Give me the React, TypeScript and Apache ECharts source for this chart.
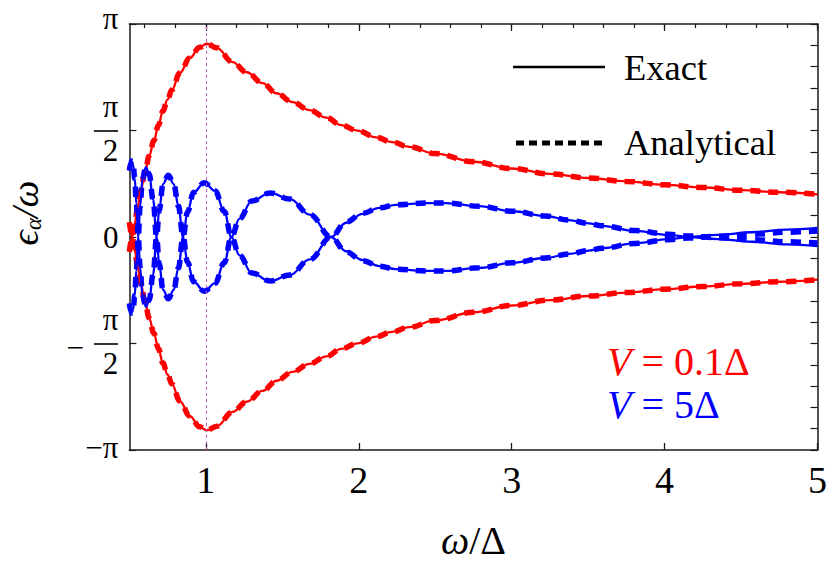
import React, { useEffect, useRef } from "react";
import * as echarts from "echarts";

const FONT = "Liberation Serif";

// ---- axis ticks ----
const xMajorTicks = [1, 2, 3, 4, 5];
const xMinorTicks = [0.6, 0.8, 1, 1.2, 1.4, 1.6, 1.8, 2, 2.2, 2.4, 2.6, 2.8, 3, 3.2, 3.4, 3.6, 3.8, 4, 4.2, 4.4, 4.6, 4.8, 5];
const yMajorTicks = [-Math.PI, -Math.PI / 2, 0, Math.PI / 2, Math.PI];
const yFractionTicks = [-Math.PI / 2, Math.PI / 2];
const yMinorTicks = Array.from({ length: 21 }, (_, i) => -Math.PI + (i * Math.PI) / 10);

// ---- V = 0.1Δ (red) ----
const redX = [
  0.5, 0.519, 0.536, 0.554, 0.575, 0.601, 0.63, 0.66, 0.69, 0.719,
  0.75, 0.778, 0.83, 0.895, 0.96, 1.006, 1.071, 1.175, 1.267, 1.371,
  1.462, 1.567, 1.678, 1.788, 1.886, 1.99, 2.114, 2.218, 2.33, 2.5,
  2.75, 3.0, 3.25, 3.5, 3.75, 4.0, 4.25, 4.5, 4.75, 5.0,
];
const redUpper = [
  -0.22, 0, 0.21, 0.44, 0.69, 0.95, 1.2, 1.42, 1.65, 1.86,
  2.03, 2.17, 2.42, 2.64, 2.8, 2.85, 2.79, 2.58, 2.43, 2.27,
  2.12, 1.99, 1.87, 1.76, 1.65, 1.57, 1.47, 1.4, 1.33, 1.23,
  1.11, 1.01, 0.93, 0.87, 0.82, 0.77, 0.73, 0.69, 0.66, 0.63,
];
const redLower = [
  0.22, 0, -0.21, -0.44, -0.69, -0.95, -1.2, -1.42, -1.65, -1.86,
  -2.03, -2.17, -2.42, -2.64, -2.8, -2.85, -2.79, -2.58, -2.43, -2.27,
  -2.12, -1.99, -1.87, -1.76, -1.65, -1.57, -1.47, -1.4, -1.33, -1.23,
  -1.11, -1.01, -0.93, -0.87, -0.82, -0.77, -0.73, -0.69, -0.66, -0.63,
];

// ---- V = 5Δ (blue) ----
const blueX = [
  0.5, 0.507, 0.515, 0.525, 0.535, 0.545, 0.558, 0.57, 0.585, 0.608,
  0.63, 0.655, 0.678, 0.695, 0.72, 0.755, 0.79, 0.82, 0.851, 0.88,
  0.92, 0.99, 1.06, 1.12, 1.167, 1.22, 1.3, 1.42, 1.55, 1.68,
  1.819, 1.917, 2.025, 2.134, 2.243, 2.44, 2.57, 2.787, 3.004, 3.222,
  3.374, 3.504, 3.591, 3.809, 4.026, 4.157, 4.35, 4.57, 4.8, 5.0,
];
const blueExactA = [
  0.98, 1.08, 1.12, 1.06, 0.86, 0.5, 0, -0.45, -0.85, -1.03,
  -0.92, -0.55, 0, 0.4, 0.78, 0.91, 0.78, 0.46, 0, -0.37,
  -0.66, -0.8, -0.68, -0.38, 0, 0.27, 0.53, 0.65, 0.56, 0.33,
  0, -0.21, -0.34, -0.43, -0.475, -0.5, -0.5, -0.455, -0.38, -0.31,
  -0.25, -0.2, -0.165, -0.09, -0.03, 0, 0.03, 0.07, 0.11, 0.135,
];
const blueExactB = [
  -0.98, -1.08, -1.12, -1.06, -0.86, -0.5, 0, 0.45, 0.85, 1.03,
  0.92, 0.55, 0, -0.4, -0.78, -0.91, -0.78, -0.46, 0, 0.37,
  0.66, 0.8, 0.68, 0.38, 0, -0.27, -0.53, -0.65, -0.56, -0.33,
  0, 0.21, 0.34, 0.43, 0.475, 0.5, 0.5, 0.455, 0.38, 0.31,
  0.25, 0.2, 0.165, 0.09, 0.03, 0, -0.03, -0.07, -0.11, -0.135,
];
const blueAnalyticalA = [
  0.98, 1.08, 1.12, 1.06, 0.86, 0.5, 0, -0.45, -0.85, -1.03,
  -0.92, -0.55, 0, 0.4, 0.78, 0.91, 0.78, 0.46, 0, -0.37,
  -0.66, -0.8, -0.68, -0.38, 0, 0.27, 0.53, 0.65, 0.56, 0.33,
  0, -0.22, -0.35, -0.43, -0.475, -0.5, -0.5, -0.455, -0.38, -0.31,
  -0.25, -0.2, -0.165, -0.095, -0.04, -0.015, 0.01, 0.04, 0.07, 0.09,
];
const blueAnalyticalB = [
  -0.98, -1.08, -1.12, -1.06, -0.86, -0.5, 0, 0.45, 0.85, 1.03,
  0.92, 0.55, 0, -0.4, -0.78, -0.91, -0.78, -0.46, 0, 0.37,
  0.66, 0.8, 0.68, 0.38, 0, -0.27, -0.53, -0.65, -0.56, -0.33,
  0, 0.22, 0.35, 0.43, 0.475, 0.5, 0.5, 0.455, 0.38, 0.31,
  0.25, 0.2, 0.165, 0.095, 0.04, 0.015, -0.01, -0.04, -0.07, -0.09,
];

const RED = "#ff0000";
const BLUE = "#0000ff";
const AXIS = "#1a1a1a";

const near = (a: number, b: number) => Math.abs(a - b) < 1e-6;

function pairs(xs: number[], ys: number[]) {
  return xs.map((x, i) => [x, ys[i]]);
}

function curve(name: string, xs: number[], ys: number[], color: string, dashed: boolean, extra: any = {}) {
  return {
    name,
    type: "line",
    data: pairs(xs, ys),
    smooth: 0.4,
    smoothMonotone: "x",
    symbol: "none",
    silent: true,
    z: dashed ? 2 : 3,
    lineStyle: dashed
      ? { color, width: 5.5, type: [10, 8], cap: "butt" }
      : { color, width: 2.3, type: "solid" },
    itemStyle: { color },
    ...extra,
  };
}

export default function App() {
  const ref = useRef<HTMLDivElement>(null);

  useEffect(() => {
    if (!ref.current) return;
    const chart = echarts.init(ref.current, undefined, { renderer: "svg" });

    const base = { fontSize: 31, fontFamily: FONT, color: "#000" };
    const yLabelRich = {
      n: { ...base, lineHeight: 40, align: "center" },
      d: { ...base, lineHeight: 48, align: "center" },
      t: { ...base, padding: [0, 0, 12, 0] },
      z: { ...base },
      p: { ...base, padding: [0, 0, 5, 0] },
    };

    const option: any = {
      animation: false,
      backgroundColor: "#ffffff",
      textStyle: { fontFamily: FONT },
      grid: { left: 129.4, right: 10.7, top: 24, bottom: 120, containLabel: false },
      xAxis: [
        {
          type: "value",
          position: "bottom",
          min: 0.5,
          max: 5,
          axisLine: { show: true, onZero: false, lineStyle: { color: AXIS, width: 1.5 } },
          axisTick: { show: true, inside: true, length: 7, customValues: xMajorTicks, lineStyle: { color: AXIS, width: 1.3 } },
          axisLabel: {
            show: true,
            customValues: xMajorTicks,
            margin: 11,
            fontSize: 38,
            fontFamily: FONT,
            color: "#000",
          },
          splitLine: { show: false },
          name: "{i|ω}{r|/Δ}",
          nameLocation: "middle",
          nameGap: 70,
          nameTextStyle: {
            fontFamily: FONT,
            fontSize: 40,
            color: "#000",
            rich: {
              i: { fontFamily: FONT, fontSize: 40, fontStyle: "italic", color: "#000" },
              r: { fontFamily: FONT, fontSize: 40, color: "#000" },
            },
          },
        },
        {
          type: "value",
          position: "top",
          min: 0.5,
          max: 5,
          axisLine: { show: true, onZero: false, lineStyle: { color: AXIS, width: 1.5 } },
          axisTick: { show: true, inside: true, length: 4, customValues: xMinorTicks, lineStyle: { color: AXIS, width: 1.2 } },
          axisLabel: { show: false },
          splitLine: { show: false },
        },
        {
          type: "value",
          position: "top",
          min: 0.5,
          max: 5,
          axisLine: { show: false, onZero: false },
          axisTick: { show: true, inside: true, length: 7, customValues: xMajorTicks, lineStyle: { color: AXIS, width: 1.2 } },
          axisLabel: { show: false },
          splitLine: { show: false },
        },
      ],
      yAxis: [
        {
          type: "value",
          position: "left",
          min: -Math.PI,
          max: Math.PI,
          axisLine: { show: true, onZero: false, lineStyle: { color: AXIS, width: 1.5 } },
          axisTick: { show: true, inside: true, length: 7, customValues: yMajorTicks, lineStyle: { color: AXIS, width: 1.2 } },
          axisLabel: {
            show: true,
            customValues: yMajorTicks,
            margin: 11,
            fontSize: 31,
            fontFamily: FONT,
            color: "#000",
            formatter: (v: number) => {
              if (near(v, Math.PI)) return "{t|π}";
              if (near(v, -Math.PI)) return "{p|−π}";
              if (near(v, 0)) return "{z|0}";
              if (near(Math.abs(v), Math.PI / 2)) return "{n|π}\n{d|2}";
              return "";
            },
            rich: yLabelRich,
          },
          splitLine: { show: false },
        },
        {
          // fraction bars of the ±π/2 labels
          type: "value",
          position: "left",
          offset: 11.4,
          min: -Math.PI,
          max: Math.PI,
          axisLine: { show: false, onZero: false },
          axisTick: { show: true, inside: false, length: 24, customValues: yFractionTicks, lineStyle: { color: "#000", width: 1.6 } },
          axisLabel: { show: false },
          splitLine: { show: false },
        },
        {
          type: "value",
          position: "right",
          min: -Math.PI,
          max: Math.PI,
          axisLine: { show: true, onZero: false, lineStyle: { color: AXIS, width: 1.5 } },
          axisTick: { show: true, inside: true, length: 7, customValues: yMinorTicks, lineStyle: { color: AXIS, width: 1.2 } },
          axisLabel: { show: false },
          splitLine: { show: false },
        },
      ],
      series: [
        curve("redUpperAnalytical", redX, redUpper, RED, true, {
          markLine: {
            silent: true,
            symbol: ["none", "none"],
            label: { show: false },
            lineStyle: { color: "#c060c0", width: 1, type: [3, 3] },
            data: [{ xAxis: 1 }],
          },
        }),
        curve("redLowerAnalytical", redX, redLower, RED, true),
        curve("blueAAnalytical", blueX, blueAnalyticalA, BLUE, true),
        curve("blueBAnalytical", blueX, blueAnalyticalB, BLUE, true),
        curve("redUpperExact", redX, redUpper, RED, false),
        curve("redLowerExact", redX, redLower, RED, false),
        curve("blueAExact", blueX, blueExactA, BLUE, false),
        curve("blueBExact", blueX, blueExactB, BLUE, false),
      ],
      graphic: [
        {
          // minus sign of the −π/2 tick label
          type: "text",
          x: 84,
          y: 347,
          style: { text: "−", fill: "#000", fontSize: 31, fontFamily: FONT, align: "right", verticalAlign: "middle" },
        },
        {
          type: "text",
          x: 25,
          y: 213,
          rotation: Math.PI / 2,
          style: {
            text: "{e|ϵ}{s|α}{e|/ω}",
            fill: "#000",
            fontSize: 38,
            fontFamily: FONT,
            align: "center",
            verticalAlign: "middle",
            rich: {
              e: { fontFamily: FONT, fontSize: 38, fontStyle: "italic", fill: "#000", lineHeight: 40 },
              s: { fontFamily: FONT, fontSize: 23, fontStyle: "italic", fill: "#000", lineHeight: 40, verticalAlign: "bottom" },
            },
          },
        },
        { type: "line", shape: { x1: 513, y1: 67, x2: 605, y2: 67 }, style: { stroke: "#000", lineWidth: 2.5 } },
        { type: "text", x: 624, y: 67, style: { text: "Exact", fill: "#000", fontSize: 36.5, fontFamily: FONT, verticalAlign: "middle", align: "left" } },
        { type: "line", shape: { x1: 516, y1: 143, x2: 604, y2: 143 }, style: { stroke: "#000", lineWidth: 5, lineDash: [8, 5] } },
        { type: "text", x: 624, y: 142, style: { text: "Analytical", fill: "#000", fontSize: 36.5, fontFamily: FONT, verticalAlign: "middle", align: "left" } },
        {
          type: "text",
          x: 607,
          y: 361,
          style: {
            text: "{i|V} = 0.1Δ",
            fill: RED,
            fontSize: 40,
            fontFamily: FONT,
            verticalAlign: "middle",
            align: "left",
            rich: {
              i: { fontStyle: "italic", fill: RED, fontSize: 40, fontFamily: FONT },
            },
          },
        },
        {
          type: "text",
          x: 607,
          y: 404,
          style: {
            text: "{i|V} = 5Δ",
            fill: BLUE,
            fontSize: 40,
            fontFamily: FONT,
            verticalAlign: "middle",
            align: "left",
            rich: {
              i: { fontStyle: "italic", fill: BLUE, fontSize: 40, fontFamily: FONT },
            },
          },
        },
      ],
    };

    chart.setOption(option);
    return () => chart.dispose();
  }, []);

  return (
    <div
      ref={ref}
      style={{ position: "fixed", left: 0, top: 0, width: 830, height: 570, background: "#fff" }}
    />
  );
}
